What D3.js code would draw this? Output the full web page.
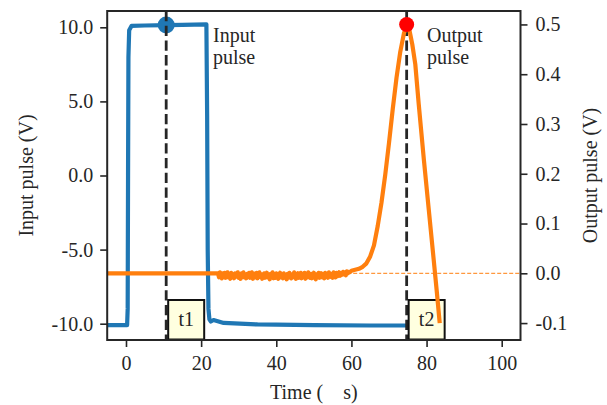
<!DOCTYPE html>
<html><head><meta charset="utf-8">
<script src="https://cdn.jsdelivr.net/npm/d3@7"></script>
<style>
body{margin:0;background:#fff}
svg{display:block}
text{font-family:"Liberation Serif","Times New Roman",serif;fill:#262626}
</style>
</head><body><svg id="c" width="607" height="405"></svg>
<script>
// ---------- data ----------
const xTicks = [0, 20, 40, 60, 80, 100];
const leftTicks = [-10, -5, 0, 5, 10];
const rightTicks = [-0.1, 0, 0.1, 0.2, 0.3, 0.4, 0.5];

const inputTimes = [-5, 0.3, 0.45, 0.55, 0.65, 0.85, 1.5, 5, 10.7, 15, 21.4, 21.6, 21.75, 21.95, 22.2, 22.6, 23.3, 26, 35, 50, 65, 83.5];
const inputVolts = [-10.1, -10.1, -9, 0, 8, 9.8, 10.1, 10.12, 10.15, 10.17, 10.2, 4, -5, -9, -9.7, -9.85, -9.75, -9.95, -10.05, -10.1, -10.12, -10.12];

const outputFlatTimes = [-5, 24.5];
const outputFlatVolts = [0, 0];
const noiseStart = 24.5, noiseStep = 0.25;
const outputNoise = [
  -0.001, -0.008, 0.002, -0.006, -0.010, 0.000, -0.007, 0.001, -0.009, -0.003,
  0.002, -0.008, -0.004, -0.011, 0.001, -0.006, -0.002, -0.010, 0.000, -0.007,
  -0.003, 0.002, -0.009, -0.005, -0.011, 0.000, -0.006, 0.002, -0.008, -0.004,
  -0.010, -0.001, -0.007, 0.001, -0.009, -0.003, 0.002, -0.011, -0.005, -0.001,
  -0.008, 0.001, -0.010, -0.004, 0.002, -0.007, -0.002, -0.011, -0.006, 0.000,
  -0.009, -0.003, 0.001, -0.008, -0.005, -0.012, -0.001, -0.007, 0.002, -0.010,
  -0.004, -0.009, 0.000, -0.006, -0.011, -0.002, 0.001, -0.008, -0.005, -0.010,
  0.000, -0.007, -0.003, -0.012, -0.001, -0.009, 0.001, -0.006, -0.010, -0.002,
  -0.008, 0.002, -0.005, -0.011, -0.003, 0.000, -0.009, -0.006, 0.001, -0.010,
  -0.002, -0.007, 0.001, -0.011, -0.004, -0.008, 0.002, -0.006, -0.009, -0.001,
  -0.010, -0.003, 0.001, -0.007, -0.012, -0.002, -0.006, 0.001, -0.009, -0.004,
  0.000, -0.008, -0.005, -0.010, 0.001, -0.006, -0.002, -0.009, 0.002, -0.005,
  -0.007, -0.001, -0.009, 0.002, -0.004, -0.008, 0.001, -0.006, -0.002, 0.002,
  -0.005, 0.000, -0.003, 0.003, -0.002, 0.001, -0.004, 0.004, 0.000, 0.003,
  0.002];
const outputPulseTimes = [60, 61, 62, 63, 64, 65, 66, 67, 68, 69, 70, 71, 72, 73, 74, 74.7, 75.4, 76.2, 77, 77.9, 79.3, 80.6, 81.9, 82.7, 83.5];
const outputPulseVolts = [0.005, 0.007, 0.009, 0.013, 0.02, 0.034, 0.056, 0.095, 0.142, 0.198, 0.262, 0.33, 0.393, 0.445, 0.483, 0.497, 0.49, 0.46, 0.42, 0.341, 0.227, 0.127, 0.027, -0.035, -0.1];

const markerTimes = [10.7, 74.7];
const markerLabels = ["t1", "t2"];
const inputPeak = [10.7, 10.15];
const outputPeak = [74.7, 0.5];

// ---------- layout ----------
const L = 107.2, R = 520.5, T = 11, B = 340;
const svg = d3.select("#c");
const x = d3.scaleLinear([-5, 105], [L, R]);
const yL = d3.scaleLinear([-11.1, 11.1], [B, T]);
const yR = d3.scaleLinear([-0.134, 0.527], [B, T]);
const FS = 20;
const dark = "#262626";

// input line
const inputData = inputTimes.map((t, i) => [t, inputVolts[i]]);
svg.append("path").attr("d", d3.line().x(d => x(d[0])).y(d => yL(d[1]))(inputData))
  .attr("fill", "none").attr("stroke", "#1f77b4").attr("stroke-width", 4.2)
  .attr("stroke-linejoin", "round");
svg.append("circle").attr("cx", x(inputPeak[0])).attr("cy", yL(inputPeak[1])).attr("r", 8.5)
  .attr("fill", "#1f77b4");

// vertical dashed lines
svg.selectAll(".vl").data(markerTimes).join("line")
  .attr("x1", d => x(d)).attr("x2", d => x(d)).attr("y1", T).attr("y2", B)
  .attr("stroke", dark).attr("stroke-width", 2.8).attr("stroke-dasharray", "10.3,4.4");

// boxes
const bx = svg.selectAll(".bx").data(markerTimes).join("g");
bx.append("rect").attr("x", d => x(d) + 2).attr("y", 300).attr("width", 36).attr("height", 39.5)
  .attr("fill", "#ffffe0").attr("stroke", "#111").attr("stroke-width", 2);
bx.append("text").attr("x", d => x(d) + 20).attr("y", 325.5).attr("text-anchor", "middle")
  .attr("font-size", FS).text((d, i) => markerLabels[i]);

// left axis
const gl = svg.append("g").attr("transform", `translate(${L},0)`)
  .call(d3.axisLeft(yL).tickValues(leftTicks).tickFormat(d => d.toFixed(1)).tickSize(7).tickPadding(7));
// bottom axis
const gb = svg.append("g").attr("transform", `translate(0,${B})`)
  .call(d3.axisBottom(x).tickValues(xTicks).tickFormat(d => String(d)).tickSize(7).tickPadding(9));
// right axis
const gr = svg.append("g").attr("transform", `translate(${R},0)`)
  .call(d3.axisRight(yR).tickValues(rightTicks).tickFormat(d => d.toFixed(1).replace("−", "-")).tickSize(7).tickPadding(8));
[gl, gb, gr].forEach(g => {
  g.select(".domain").remove();
  g.selectAll(".tick line").attr("stroke", dark).attr("stroke-width", 1.6);
  g.selectAll(".tick text").attr("font-size", FS).attr("fill", dark)
    .style("font-family", '"Liberation Serif","Times New Roman",serif');
});

// zero line of output axis
svg.append("line").attr("x1", L).attr("x2", R).attr("y1", yR(0)).attr("y2", yR(0))
  .attr("stroke", "#ff7f0e").attr("stroke-width", 1).attr("stroke-dasharray", "4,2");

// output line
const outputData = outputFlatTimes.map((t, i) => [t, outputFlatVolts[i]])
  .concat(outputNoise.map((v, i) => [noiseStart + i * noiseStep, v]))
  .concat(outputPulseTimes.map((t, i) => [t, outputPulseVolts[i]]));
svg.append("path").attr("d", d3.line().x(d => x(d[0])).y(d => yR(d[1]))(outputData))
  .attr("fill", "none").attr("stroke", "#ff7f0e").attr("stroke-width", 4.2)
  .attr("stroke-linejoin", "round");
svg.append("circle").attr("cx", x(outputPeak[0])).attr("cy", yR(outputPeak[1])).attr("r", 7.5)
  .attr("fill", "red");

// frame
svg.append("rect").attr("x", L).attr("y", T).attr("width", R - L).attr("height", B - T)
  .attr("fill", "none").attr("stroke", dark).attr("stroke-width", 2);

// annotations
const ann = [["Input", "pulse", 213], ["Output", "pulse", 427]];
ann.forEach(a => {
  const t = svg.append("text").attr("font-size", FS);
  t.append("tspan").attr("x", a[2]).attr("y", 42).text(a[0]);
  t.append("tspan").attr("x", a[2]).attr("y", 64).text(a[1]);
});

// axis labels
svg.append("text").attr("x", (L + R) / 2).attr("y", 399).attr("text-anchor", "middle")
  .attr("font-size", FS).text("Time (\u00a0\u00a0\u00a0\u00a0s)");
svg.append("text").attr("transform", `translate(33,${(T + B) / 2}) rotate(-90)`)
  .attr("text-anchor", "middle").attr("font-size", FS).text("Input pulse (V)");
svg.append("text").attr("transform", `translate(597,${(T + B) / 2}) rotate(-90)`)
  .attr("text-anchor", "middle").attr("font-size", FS).text("Output pulse (V)");
</script>
</body></html>
